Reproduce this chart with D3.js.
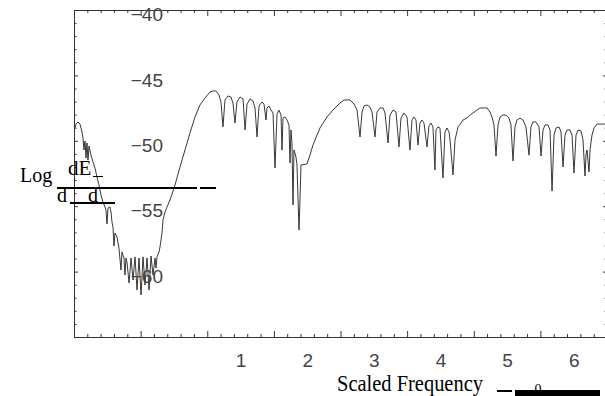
<!DOCTYPE html>
<html>
<head>
<meta charset="utf-8">
<script src="https://cdn.jsdelivr.net/npm/d3@7"></script>
<style>
  html, body { margin: 0; padding: 0; background: #fff; overflow: hidden; }
  svg { display: block; }
</style>
</head>
<body>
<svg id="chart" width="605" height="396"></svg>
<script>
// Spectrum: scaled frequency vs log spectral energy density
const spectrum = [
  [0.015,-49.02],[0.030,-48.72],[0.060,-48.56],[0.090,-48.72],[0.120,-49.33],[0.135,-49.79],
  [0.150,-50.70],[0.165,-50.02],[0.180,-51.31],[0.195,-50.17],[0.210,-51.47],[0.225,-50.40],
  [0.255,-51.09],[0.285,-51.62],[0.315,-52.08],[0.345,-52.77],[0.375,-53.38],[0.405,-54.14],
  [0.435,-54.68],[0.465,-55.06],[0.480,-55.29],[0.495,-56.36],[0.510,-55.14],[0.540,-55.06],
  [0.555,-55.44],[0.570,-56.21],[0.585,-56.59],[0.600,-58.04],[0.615,-57.05],[0.645,-57.35],
  [0.675,-58.20],[0.705,-59.88],[0.720,-58.50],[0.750,-58.96],[0.765,-60.26],[0.780,-58.96],
  [0.795,-59.27],[0.826,-60.87],[0.856,-58.96],[0.886,-60.64],[0.916,-58.88],[0.946,-61.41],
  [0.976,-58.96],[1.006,-61.79],[1.036,-58.88],[1.066,-61.02],[1.096,-58.96],[1.126,-61.41],
  [1.156,-58.81],[1.186,-60.26],[1.216,-58.96],[1.231,-59.73],[1.246,-58.88],
  [1.276,-58.50],[1.291,-58.12],[1.321,-57.05],[1.336,-56.05],[1.366,-55.44],
  [1.396,-55.06],[1.441,-54.53],[1.516,-53.38],[1.591,-52.00],[1.666,-50.70],[1.741,-49.40],
  [1.816,-48.18],[1.891,-47.26],[1.966,-46.73],[2.041,-46.27],[2.086,-46.19],[2.131,-46.19],
  [2.176,-46.50],[2.206,-47.03],[2.236,-48.94],[2.266,-46.88],[2.311,-46.57],[2.356,-46.65],
  [2.386,-47.11],[2.416,-48.64],[2.446,-47.03],[2.492,-46.65],[2.537,-46.80],[2.567,-49.17],
  [2.597,-47.19],[2.642,-46.80],[2.687,-46.96],[2.717,-47.49],[2.747,-49.71],[2.777,-47.34],
  [2.822,-47.03],[2.852,-47.19],[2.882,-48.41],[2.897,-47.49],[2.927,-47.34],[2.957,-47.65],
  [2.987,-47.87],[3.017,-52.08],[3.047,-47.95],[3.077,-47.65],[3.107,-48.03],[3.122,-50.70],
  [3.137,-48.26],[3.167,-48.18],[3.197,-48.41],[3.227,-48.79],[3.242,-51.70],[3.257,-49.17],
  [3.272,-50.17],[3.287,-54.91],[3.302,-50.70],[3.332,-51.24],[3.347,-51.85],[3.377,-56.82],
  [3.392,-54.53],[3.407,-51.85],[3.497,-51.77],[3.542,-51.09],[3.587,-50.32],[3.692,-49.02],
  [3.797,-48.18],[3.887,-47.65],[3.992,-47.11],[4.053,-46.88],[4.143,-46.88],[4.203,-47.19],
  [4.248,-47.65],[4.293,-49.71],[4.323,-47.80],[4.353,-47.34],[4.398,-47.26],[4.443,-47.42],
  [4.473,-47.80],[4.518,-49.71],[4.548,-47.80],[4.593,-47.49],[4.638,-47.49],[4.668,-47.87],
  [4.713,-50.17],[4.743,-48.03],[4.788,-47.65],[4.833,-47.80],[4.878,-50.47],[4.908,-48.26],
  [4.953,-47.87],[4.998,-48.18],[5.043,-50.70],[5.073,-48.41],[5.103,-48.18],[5.133,-48.41],
  [5.163,-50.32],[5.193,-48.64],[5.223,-48.41],[5.253,-48.64],[5.298,-50.47],[5.328,-48.87],
  [5.358,-48.64],[5.388,-48.94],[5.418,-52.23],[5.433,-49.17],[5.463,-48.94],[5.493,-49.02],
  [5.538,-52.84],[5.568,-49.33],[5.598,-49.02],[5.629,-49.33],[5.644,-49.94],[5.689,-52.61],
  [5.719,-49.94],[5.764,-48.94],[5.809,-48.64],[5.839,-48.41],[5.899,-48.26],[5.944,-48.03],
  [5.989,-47.87],[6.049,-47.65],[6.094,-47.49],[6.199,-47.49],[6.244,-47.80],[6.274,-48.18],
  [6.304,-48.79],[6.334,-51.16],[6.364,-48.79],[6.394,-48.18],[6.439,-48.03],[6.484,-48.03],
  [6.529,-48.26],[6.559,-48.79],[6.589,-51.54],[6.619,-48.94],[6.649,-48.41],[6.694,-48.26],
  [6.739,-48.41],[6.784,-48.94],[6.829,-51.09],[6.859,-48.94],[6.889,-48.56],[6.934,-48.56],
  [6.980,-48.94],[7.010,-51.16],[7.040,-49.17],[7.070,-48.79],[7.115,-48.79],[7.145,-49.17],
  [7.175,-53.84],[7.205,-49.56],[7.235,-49.02],[7.280,-48.94],[7.310,-49.33],[7.340,-52.00],
  [7.370,-49.56],[7.400,-49.17],[7.445,-49.17],[7.475,-49.56],[7.505,-52.46],[7.535,-49.56],
  [7.565,-49.17],[7.610,-49.25],[7.640,-49.94],[7.670,-52.69],[7.685,-51.09],[7.700,-50.70],
  [7.730,-52.38],[7.745,-50.70],[7.775,-49.56],[7.805,-49.02],[7.850,-48.72],[7.970,-48.72]
];

const xDomain = [0, 8];
const yDomain = [-65, -40];
const xMajorTicks = [1, 2, 3, 4, 5, 6, 7, 8];
const xLabelValues = [1, 2, 3, 4, 5, 6];
const xTickLabels = ["1", "2", "3", "4", "5", "6"];
const yMajorTicks = [-65, -60, -55, -50, -45, -40];
const yLabelValues = [-60, -55, -50, -45, -40];
const yTickLabels = ["\u221260", "\u221255", "\u221250", "\u221245", "\u221240"];

const svg = d3.select("#chart");
const plotLeft = 74, plotRight = 607, plotTop = 10, plotBottom = 337;

const x = d3.scaleLinear().domain(xDomain).range([plotLeft, plotRight]);
const y = d3.scaleLinear().domain(yDomain).range([plotBottom, plotTop]);

const xMinor = d3.range(0, 8.001, 0.2).map(v => +v.toFixed(1)).filter(v => !xMajorTicks.includes(v));
const yMinor = d3.range(-65, -39.999, 1).filter(v => !yMajorTicks.includes(v));

const frameColor = "#333";

// Curve
const line = d3.line().x(d => x(d[0])).y(d => y(d[1]));
svg.append("path")
  .datum(spectrum)
  .attr("d", line)
  .attr("fill", "none")
  .attr("stroke", "#222")
  .attr("stroke-width", 0.9)
  .attr("stroke-linejoin", "miter");

// Frame ticks on all four sides, pointing inward
function tickAxis(axisFn, scale, values, size, transform) {
  const g = svg.append("g").attr("transform", transform)
    .call(axisFn(scale).tickValues(values).tickSize(-size).tickFormat(""));
  g.select(".domain").remove();
  g.selectAll(".tick line").attr("stroke", frameColor).attr("stroke-width", 1);
  return g;
}
tickAxis(d3.axisBottom, x, xMajorTicks, 6, `translate(0,${plotBottom})`);
tickAxis(d3.axisBottom, x, xMinor, 3, `translate(0,${plotBottom})`);
tickAxis(d3.axisTop, x, xMajorTicks, 6, `translate(0,${plotTop})`);
tickAxis(d3.axisTop, x, xMinor, 3, `translate(0,${plotTop})`);
tickAxis(d3.axisLeft, y, yMajorTicks, 4, `translate(${plotLeft},0)`);
tickAxis(d3.axisLeft, y, yMinor, 2.5, `translate(${plotLeft},0)`);
tickAxis(d3.axisRight, y, yMajorTicks, 4, `translate(${plotRight},0)`);
tickAxis(d3.axisRight, y, yMinor, 2.5, `translate(${plotRight},0)`);

svg.append("rect")
  .attr("x", plotLeft + 0.5).attr("y", plotTop + 0.5)
  .attr("width", plotRight - plotLeft).attr("height", plotBottom - plotTop)
  .attr("fill", "none").attr("stroke", frameColor).attr("stroke-width", 1);

// Tick labels (set off from their ticks)
const tickFont = "'Liberation Sans', Arial, sans-serif";
const xLab = svg.append("g")
  .attr("transform", `translate(100,${plotBottom})`)
  .call(d3.axisBottom(x).tickValues(xLabelValues).tickSize(0)
    .tickFormat((d, i) => xTickLabels[i]));
xLab.select(".domain").remove();
xLab.selectAll("text")
  .attr("font-family", tickFont).attr("font-size", 19).attr("fill", "#444")
  .attr("dy", 0).attr("y", 30);

const yLab = svg.append("g")
  .attr("transform", `translate(${plotLeft + 89},0)`)
  .call(d3.axisLeft(y).tickValues(yLabelValues).tickSize(0).tickPadding(0)
    .tickFormat((d, i) => yTickLabels[i]));
yLab.select(".domain").remove();
yLab.selectAll("text")
  .attr("font-family", tickFont).attr("font-size", 19).attr("fill", "#444")
  .attr("dy", "0.67em").attr("y", -2);

// Axis titles
const serif = "'Liberation Serif', 'Times New Roman', serif";
svg.append("text").attr("x", 20).attr("y", 181.5)
  .attr("font-family", serif).attr("font-size", 20).attr("fill", "#000").text("Log");
svg.append("text").attr("x", 68).attr("y", 175)
  .attr("font-family", serif).attr("font-size", 21).attr("fill", "#000").text("dE");
svg.append("text").attr("x", 57).attr("y", 201.5)
  .attr("font-family", serif).attr("font-size", 20).attr("fill", "#000").text("d");
svg.append("text").attr("x", 88).attr("y", 201.5)
  .attr("font-family", serif).attr("font-size", 20).attr("fill", "#000").text("d");

const rule = (x1, x2, yy, w) => svg.append("line")
  .attr("x1", x1).attr("x2", x2).attr("y1", yy).attr("y2", yy)
  .attr("stroke", "#000").attr("stroke-width", w);
rule(57, 197, 188, 2);
rule(200, 216, 188, 2);
rule(70, 115, 203, 2);
rule(93, 103, 176.5, 1);

svg.append("text").attr("x", 337).attr("y", 390.5)
  .attr("font-family", serif).attr("font-size", 24).attr("fill", "#000")
  .attr("textLength", 146).attr("lengthAdjust", "spacingAndGlyphs")
  .text("Scaled Frequency");
rule(497, 512, 391, 2);
svg.append("text").attr("x", 538).attr("y", 394).attr("text-anchor", "middle")
  .attr("font-family", serif).attr("font-size", 14).attr("fill", "#000").text("0");
svg.append("rect").attr("x", 515).attr("y", 390).attr("width", 85).attr("height", 8)
  .attr("fill", "#000");
</script>
</body>
</html>
